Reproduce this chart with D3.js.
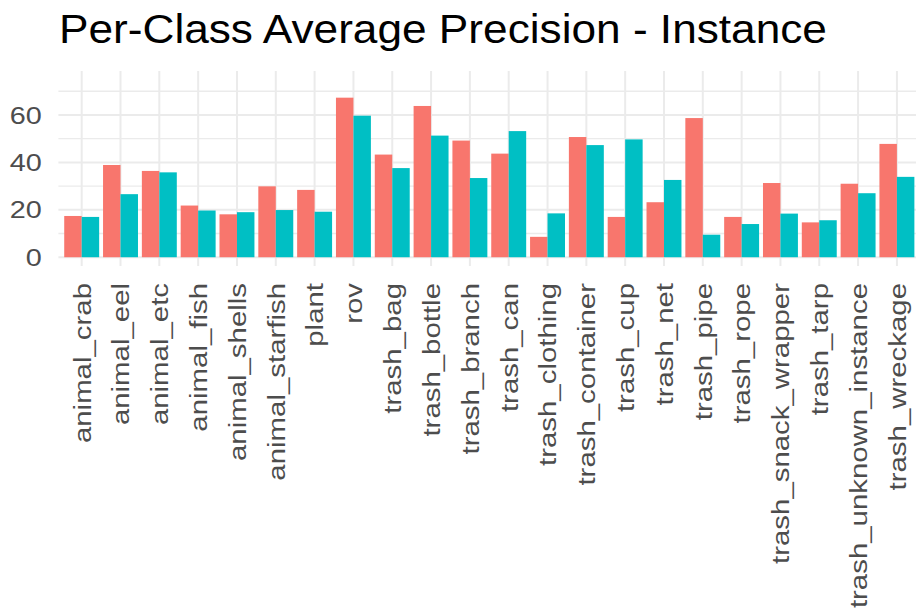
<!DOCTYPE html>
<html>
<head>
<meta charset="utf-8">
<script src="https://cdn.jsdelivr.net/npm/d3@7"></script>
<style>
  body { margin: 0; background: #fff; }
  svg { display: block; font-family: "Liberation Sans", Arial, sans-serif; }
</style>
</head>
<body>
<div id="chart"></div>
<script>
// per-class AP, two series (red / teal)
var categories = ["animal_crab", "animal_eel", "animal_etc", "animal_fish", "animal_shells",
    "animal_starfish", "plant", "rov", "trash_bag", "trash_bottle", "trash_branch", "trash_can",
    "trash_clothing", "trash_container", "trash_cup", "trash_net", "trash_pipe", "trash_rope",
    "trash_snack_wrapper", "trash_tarp", "trash_unknown_instance", "trash_wreckage"];
var seriesA = [17.4, 38.9, 36.4, 21.8, 18.1, 29.9, 28.4, 67.3, 43.3, 63.8, 49.2, 43.7,
    8.6, 50.7, 17.0, 23.2, 58.7, 17.0, 31.3, 14.7, 31.0, 47.8];
var seriesB = [17.0, 26.6, 35.8, 19.7, 19.0, 19.9, 19.2, 59.7, 37.6, 51.3, 33.4, 53.2,
    18.5, 47.3, 49.7, 32.6, 9.5, 14.0, 18.4, 15.6, 27.0, 33.9];
var seriesNames = ["A", "B"];
var seriesColors = ["#F8766D", "#00BFC4"];
var majorTicks = [0, 20, 40, 60];
var minorTicks = [10, 30, 50, 70];

var width = 916, height = 610;
var panel = {left: 58.4, right: 920.2, top: 71, bottom: 266};
var textStretch = 1.2;

var svg = d3.select("#chart").append("svg")
    .attr("width", width)
    .attr("height", height);

var x = d3.scaleBand()
    .domain(categories)
    .range([panel.left, panel.right])
    .paddingInner(0)
    .paddingOuter(0.1);

var xSub = d3.scaleBand()
    .domain(seriesNames)
    .range([0.05 * x.bandwidth(), 0.95 * x.bandwidth()]);

var y = d3.scaleLinear()
    .domain([-3.7, 78.55])
    .range([panel.bottom, panel.top]);

// grid
var grid = svg.append("g").attr("class", "grid");
grid.selectAll(".minor").data(minorTicks).enter().append("line")
    .attr("x1", panel.left).attr("x2", panel.right)
    .attr("y1", d => y(d)).attr("y2", d => y(d))
    .style("stroke", "#EBEBEB").style("stroke-width", 1.3);
grid.selectAll(".majorY").data(majorTicks).enter().append("line")
    .attr("x1", panel.left).attr("x2", panel.right)
    .attr("y1", d => y(d)).attr("y2", d => y(d))
    .style("stroke", "#EBEBEB").style("stroke-width", 2);
grid.selectAll(".majorX").data(categories).enter().append("line")
    .attr("x1", d => x(d) + x.bandwidth() / 2).attr("x2", d => x(d) + x.bandwidth() / 2)
    .attr("y1", panel.top).attr("y2", panel.bottom)
    .style("stroke", "#EBEBEB").style("stroke-width", 2);

// bars
var rows = categories.map(function(c, i) {
    return {cat: c, vals: [seriesA[i], seriesB[i]]};
});

var groups = svg.selectAll(".cat").data(rows).enter().append("g")
    .attr("transform", d => "translate(" + x(d.cat) + ",0)");

groups.selectAll("rect")
    .data(d => d.vals.map((v, j) => ({name: seriesNames[j], v: v, color: seriesColors[j]})))
    .enter().append("rect")
    .attr("x", d => xSub(d.name))
    .attr("width", xSub.bandwidth())
    .attr("y", d => y(d.v))
    .attr("height", d => y(0) - y(d.v))
    .style("fill", d => d.color);

// y axis labels
svg.selectAll(".ylab").data(majorTicks).enter().append("text")
    .attr("transform", d => "translate(41.7," + y(d) + ") scale(" + textStretch + ",1)")
    .attr("dy", "0.36em")
    .attr("text-anchor", "end")
    .style("font-size", "24px")
    .style("fill", "#4D4D4D")
    .text(d => d);

// x axis labels
svg.selectAll(".xlab").data(categories).enter().append("text")
    .attr("transform", d => "translate(" + (x(d) + x.bandwidth() / 2) + ",283) rotate(-90) scale(" + textStretch + ",1)")
    .attr("dy", "0.36em")
    .attr("text-anchor", "end")
    .style("font-size", "24.5px")
    .style("fill", "#4D4D4D")
    .text(d => d);

// title
svg.append("text")
    .attr("transform", "translate(59,43.3) scale(1.105,1)")
    .style("font-size", "40px")
    .style("fill", "#000")
    .text("Per-Class Average Precision - Instance");
</script>
</body>
</html>
